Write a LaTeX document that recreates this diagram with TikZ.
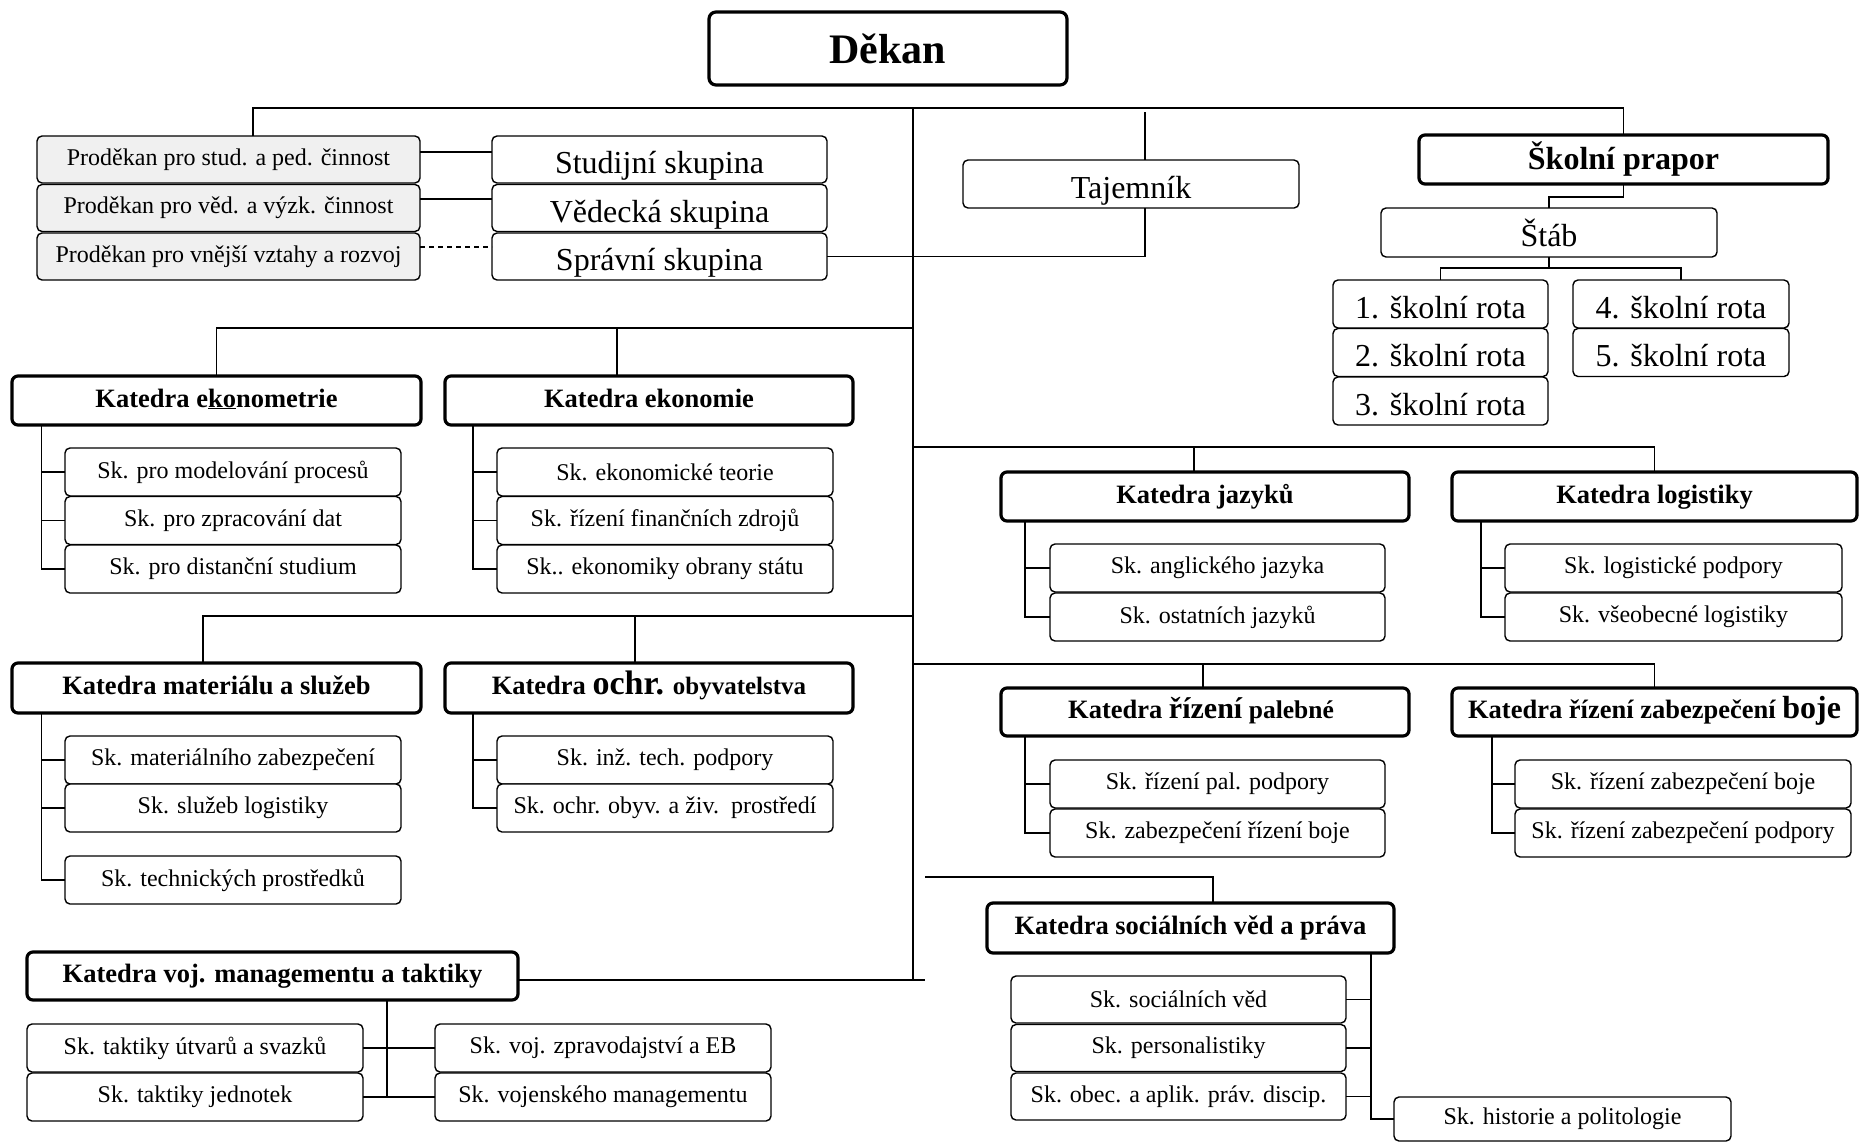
\documentclass[tikz,border=0pt]{standalone}
\usepackage{fontspec}
\setmainfont{Liberation Serif}
\newcommand\fsz[1]{\fontsize{#1}{#1}\selectfont}
\begin{document}
\begin{tikzpicture}[x=1pt,y=-1pt,
 bx/.style={draw, rounded corners=5pt, line width=1.4pt, inner sep=0pt, outer sep=0pt, align=center, fill=white},
 sk/.style={bx, minimum width=336pt, minimum height=48pt, font=\fsz{24}},
 grp/.style={bx, minimum height=48pt, font=\fsz{32}, text height=28pt, text depth=0pt},
 kat/.style={bx, line width=3.2pt, rounded corners=6pt, minimum width=408pt, minimum height=49pt, font=\fsz{26.5}\bfseries, text height=13pt, text depth=0pt},
 pd/.style={bx, fill=black!6, minimum width=383pt, minimum height=47pt, font=\fsz{24}},
 ln/.style={line width=1.6pt},
]
\useasboundingbox (0,0) rectangle (1859,1143);

% top part
\node[bx, line width=3.2pt, rounded corners=7pt, minimum width=358pt, minimum height=73pt, font=\fsz{42}\bfseries] (dekan) at (888,48.5) {Děkan};
\node[pd] (pd1) at (228.5,159.5) {Proděkan pro stud. a ped. činnost};
\node[pd] (pd2) at (228.5,208) {Proděkan pro věd. a výzk. činnost};
\node[pd] (pd3) at (228.5,256.5) {Proděkan pro vnější vztahy a rozvoj};
\node[grp, minimum width=335pt, minimum height=47pt] (ss1) at (659.5,159.5) {Studijní skupina};
\node[grp, minimum width=335pt, minimum height=47pt] (ss2) at (659.5,208) {Vědecká skupina};
\node[grp, minimum width=335pt, minimum height=47pt] (ss3) at (659.5,256.5) {Správní skupina};
\node[grp, minimum width=336pt] (taj) at (1131,184) {Tajemník};
\node[bx, line width=3.2pt, rounded corners=6pt, minimum width=409pt, minimum height=49pt, font=\fsz{32}\bfseries] (sp) at (1623.5,159.5) {Školní prapor};
\node[grp, minimum width=336pt, minimum height=49pt] (stab) at (1549,232.5) {Štáb};
\node[grp, minimum width=215pt] (r1) at (1440.5,304) {1. školní rota};
\node[grp, minimum width=215pt] (r2) at (1440.5,352.5) {2. školní rota};
\node[grp, minimum width=215pt] (r3) at (1440.5,401) {3. školní rota};
\node[grp, minimum width=216pt] (r4) at (1681,304) {4. školní rota};
\node[grp, minimum width=216pt] (r5) at (1681,352.5) {5. školní rota};

% left row 1
\node[kat, minimum width=409pt] (kek) at (216.5,400.5) {Katedra e\underline{ko}nometrie};
\node[kat] (kem) at (649,400.5) {Katedra ekonomie};
\node[sk] (ek1) at (233,472) {Sk. pro modelování procesů};
\node[sk] (ek2) at (233,520.5) {Sk. pro zpracování dat};
\node[sk] (ek3) at (233,569) {Sk. pro distanční studium};
\node[sk] (em1) at (665,472) {Sk. ekonomické teorie};
\node[sk] (em2) at (665,520.5) {Sk. řízení finančních zdrojů};
\node[sk] (em3) at (665,569) {Sk.. ekonomiky obrany státu};

% left row 2
\node[kat, minimum width=409pt, minimum height=50pt] (kms) at (216.5,688) {Katedra materiálu a služeb};
\node[kat, minimum height=50pt] (koo) at (649,688) {Katedra {\fsz{34}ochr.} {\fsz{25}obyvatelstva}};
\node[sk] (ms1) at (233,760) {Sk. materiálního zabezpečení};
\node[sk] (ms2) at (233,808) {Sk. služeb logistiky};
\node[sk] (ms3) at (233,880) {Sk. technických prostředků};
\node[sk] (oo1) at (665,760) {Sk. inž. tech. podpory};
\node[sk] (oo2) at (665,808) {Sk. ochr. obyv. a živ.\ \ prostředí};

% left bottom
\node[kat, minimum width=491pt, minimum height=48pt] (kvm) at (272.5,976) {Katedra voj. managementu a taktiky};
\node[sk] (vm1) at (195,1048) {Sk. taktiky útvarů a svazků};
\node[sk] (vm2) at (195,1097) {Sk. taktiky jednotek};
\node[sk] (vm3) at (603,1048) {Sk. voj. zpravodajství a EB};
\node[sk] (vm4) at (603,1097) {Sk. vojenského managementu};

% right row 1
\node[kat] (kjaz) at (1205,496.5) {Katedra jazyků};
\node[kat, minimum width=405pt] (klog) at (1654.5,496.5) {Katedra logistiky};
\node[sk, minimum width=335pt] (jz1) at (1217.5,568) {Sk. anglického jazyka};
\node[sk, minimum width=335pt] (jz2) at (1217.5,617) {Sk. ostatních jazyků};
\node[sk, minimum width=337pt] (lg1) at (1673.5,568) {Sk. logistické podpory};
\node[sk, minimum width=337pt] (lg2) at (1673.5,617) {Sk. všeobecné logistiky};

% right row 2
\node[kat, minimum height=48pt] (kpal) at (1205,712) {Katedra {\fsz{30}řízení} {\fsz{25.5}palebné}\hspace*{8pt}};
\node[kat, minimum width=405pt, minimum height=48pt] (kzb) at (1654.5,712) {Katedra řízení zabezpečení {\fsz{32}boje}};
\node[sk, minimum width=335pt] (pl1) at (1217.5,784) {Sk. řízení pal. podpory};
\node[sk, minimum width=335pt] (pl2) at (1217.5,833) {Sk. zabezpečení řízení boje};
\node[sk] (zb1) at (1683,784) {Sk. řízení zabezpečení boje};
\node[sk] (zb2) at (1683,833) {Sk. řízení zabezpečení podpory};

% right bottom
\node[kat, minimum width=407pt, minimum height=50pt] (ksoc) at (1190.5,928) {Katedra sociálních věd a práva};
\node[sk, minimum width=335pt, minimum height=47pt] (so1) at (1178.5,999.5) {Sk. sociálních věd};
\node[sk, minimum width=335pt, minimum height=47pt] (so2) at (1178.5,1048) {Sk. personalistiky};
\node[sk, minimum width=335pt, minimum height=47pt] (so3) at (1178.5,1096.5) {Sk. obec. a aplik. práv. discip.};
\node[sk, minimum width=337pt, minimum height=44pt] (hist) at (1562.5,1119) {Sk. historie a politologie};

% connectors top
\coordinate (tl) at (253,108);
\coordinate (tr) at (1623.5,108);
\coordinate (tt) at (913,108);
\coordinate (tb) at (913,980);
\coordinate (tjt) at (1145,112);
\draw[ln] (tl |- pd1.north) -- (tl) -- (tr) -- (sp.north);
\draw[ln] (tt) -- (tb);
\draw[ln] (tjt) -- (tjt |- taj.north);
\draw[ln] (ss3.east) -- (ss3.east -| tjt) -- (tjt |- taj.south);
\draw[ln] ([yshift=7.5pt]pd1.east) -- ([yshift=7.5pt]ss1.west);
\draw[ln] ([yshift=9pt]pd2.east) -- ([yshift=9pt]ss2.west);
\draw[ln, dash pattern=on 5pt off 4pt] ([yshift=9.5pt]pd3.east) -- ([yshift=9.5pt]ss3.west);
\draw[ln] (sp.south) -- ++(0,13) -| (stab.north);
\draw[ln] (stab.south) -- ++(0,11) coordinate (sj);
\draw[ln] (r1.north) |- (sj) -| (r4.north);

% left row 1
\coordinate (h1) at (913,328);
\draw[ln] (kek.north) |- (h1);
\draw[ln] ([xshift=-32pt]kem.north) -- ([xshift=-32pt]kem.north |- h1);
\draw[ln] ([xshift=29.5pt]kek.south west) |- (ek3.west);
\draw[ln] (ek1.west) -- ++(-23.5,0);
\draw[ln] (ek2.west) -- ++(-23.5,0);
\draw[ln] ([xshift=28pt]kem.south west) |- (em3.west);
\draw[ln] (em1.west) -- ++(-24,0);
\draw[ln] (em2.west) -- ++(-24,0);

% left row 2
\coordinate (h2) at (913,616);
\draw[ln] ([xshift=-13.5pt]kms.north) |- (h2);
\draw[ln] ([xshift=-14pt]koo.north) -- ([xshift=-14pt]koo.north |- h2);
\draw[ln] ([xshift=29.5pt]kms.south west) |- (ms3.west);
\draw[ln] (ms1.west) -- ++(-23.5,0);
\draw[ln] (ms2.west) -- ++(-23.5,0);
\draw[ln] ([xshift=28pt]koo.south west) |- (oo2.west);
\draw[ln] (oo1.west) -- ++(-24,0);

% left bottom
\coordinate (h3) at (925,980);
\draw[line width=2.2pt] (kvm.east |- h3) -- (h3);
\draw[ln] ([xshift=114.5pt]kvm.south) -- ([xshift=114.5pt]kvm.south |- vm2.east);
\draw[ln] (vm1.east) -- (vm3.west);
\draw[ln] (vm2.east) -- (vm4.west);

% right row 1
\coordinate (h4) at (913,447);
\draw[ln] (h4) -| (klog.north);
\draw[ln] ([xshift=-11pt]kjaz.north) -- ([xshift=-11pt]kjaz.north |- h4);
\draw[ln] ([xshift=24pt]kjaz.south west) |- (jz2.west);
\draw[ln] (jz1.west) -- ++(-25,0);
\draw[ln] ([xshift=29pt]klog.south west) |- (lg2.west);
\draw[ln] (lg1.west) -- ++(-24,0);

% right row 2
\coordinate (h5) at (913,664);
\draw[ln] (h5) -| (kzb.north);
\draw[ln] ([xshift=-2pt]kpal.north) -- ([xshift=-2pt]kpal.north |- h5);
\draw[ln] ([xshift=24pt]kpal.south west) |- (pl2.west);
\draw[ln] (pl1.west) -- ++(-25,0);
\draw[ln] ([xshift=40pt]kzb.south west) |- (zb2.west);
\draw[ln] (zb1.west) -- ++(-23,0);

% right bottom
\coordinate (h6) at (925,877);
\draw[ln] (h6) -| ([xshift=22.5pt]ksoc.north);
\draw[ln] ([xshift=-23pt]ksoc.south east) |- (hist.west);
\draw[ln] (so1.east) -- ++(25,0);
\draw[ln] (so2.east) -- ++(25,0);
\draw[ln] (so3.east) -- ++(25,0);
\end{tikzpicture}
\end{document}
